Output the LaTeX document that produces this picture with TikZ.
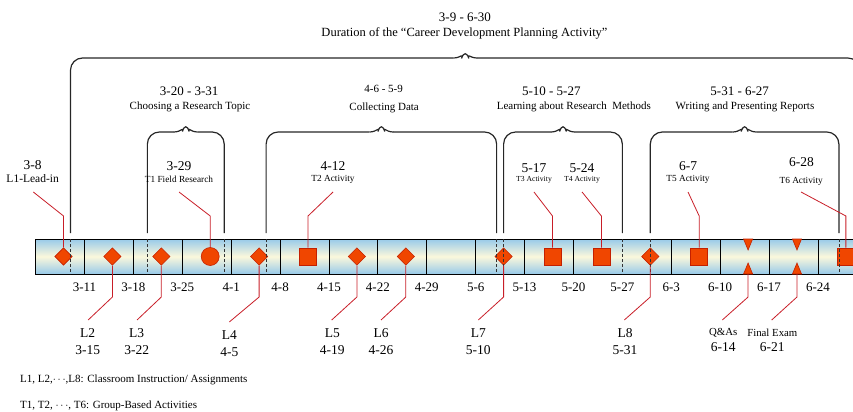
\documentclass[tikz,border=0pt]{standalone}
\usepackage{fontspec}
\setmainfont{Liberation Serif}
\usetikzlibrary{positioning,shapes.geometric}
\definecolor{MarkFill}{HTML}{F04600}
\definecolor{MarkEdge}{HTML}{C42000}
\definecolor{LeadRed}{HTML}{C81E28}
\definecolor{BarBlue}{HTML}{98CAE9}
\definecolor{BarCream}{HTML}{FBF8DC}
\newcommand{\fsz}[1]{\fontsize{#1}{#1}\selectfont}
% brace over a phase: left day, right day, top y, tip height
\newcommand{\phasebrace}[4]{%
  \draw[brace] (#1,233) -- (#1,#3) -- ({(#1+#2)/2-1.7},#3);
  \draw[brace] ({(#1+#2)/2-1.7},#3) .. controls ({(#1+#2)/2-0.6},#3) and ({(#1+#2)/2-0.25},{#3-#4/2}) .. ({(#1+#2)/2},{#3-#4})
    .. controls ({(#1+#2)/2+0.25},{#3-#4/2}) and ({(#1+#2)/2+0.6},#3) .. ({(#1+#2)/2+1.7},#3);
  \draw[brace] ({(#1+#2)/2+1.7},#3) -- (#2,#3) -- (#2,233);}

\begin{document}
\begin{tikzpicture}[x=6.985pt, y=-1pt, every node/.style={inner sep=0pt},
brace/.style={line width=1.2pt,black!85,rounded corners=12pt},
cut/.style={dashed,line width=0.8pt,black!80,dash pattern=on 3pt off 2pt},
cell/.style={line width=0.8pt,black},
evmark/.style={fill=MarkFill,draw=MarkEdge,line width=0.6pt},
lmark/.style={evmark,diamond,minimum size=17.5pt},
tmark/.style={evmark,rectangle,minimum size=17pt},
lead/.style={LeadRed,line width=0.8pt},
phasedate/.style={font=\fsz{13}},
phasename/.style={font=\fsz{11}},
evdate/.style={font=\fsz{13.5}},
weeklab/.style={font=\fsz{13}},
legend/.style={font=\fsz{11},anchor=west}]
\clip (-5.097,0) rectangle (117.02,411);

% whole activity and its phases
\phasebrace{5}{118}{58}{11}
\node[phasedate] (allwhen) at (61.47,17) {3-9 - 6-30};
\node[phasename,font=\fsz{12.5}] (allname) at (61.4,33) {Duration of the ``Career Development Planning Activity''};
\phasebrace{16}{27}{132}{12}
\node[phasedate] (p1when) at (21.99,91) {3-20 - 3-31};
\node[phasename] (p1name) at (22.1,107) {Choosing a Research Topic};
\phasebrace{33}{66}{132}{12}
\node[phasedate,font=\fsz{11}] (p2when) at (49.83,89) {4-6 - 5-9};
\node[phasename] (p2name) at (49.9,108) {Collecting Data};
\phasebrace{67}{84}{132}{12}
\node[phasedate] (p3when) at (73.83,91.5) {5-10 - 5-27};
\node[phasename] (p3name) at (77.05,107) {Learning about Research\ \ Methods};
\phasebrace{88}{115}{132}{12}
\node[phasedate] (p4when) at (100.8,91.5) {5-31 - 6-27};
\node[phasename] (p4name) at (101.56,107) {Writing and Presenting Reports};

% the week bar
\shade[top color=BarBlue,bottom color=BarBlue,middle color=BarCream] (0,239) rectangle (122,274);
\draw[cell] (0,239) rectangle (122,274);
\foreach \d in {7,14,...,77,91,98,...,119} \draw[cell] (\d,239) -- (\d,274);
\foreach \d/\t in {7/3-11,14/3-18,21/3-25,28/4-1,35/4-8,42/4-15,49/4-22,56/4-29,63/5-6,70/5-13,77/5-20,84/5-27,91/6-3,98/6-10,105/6-17,112/6-24}
  \node[weeklab] (w\d) at (\d,287) {\t};

% events
\node[lmark] (l1) at (4,256.5) {};
\node[lmark] (l2) at (11,256.5) {};
\node[lmark] (l3) at (18,256.5) {};
\node[evmark,circle,minimum size=18pt] (t1) at (25,256.5) {};
\node[lmark] (l4) at (32,256.5) {};
\node[tmark] (t2) at (39,256.5) {};
\node[lmark] (l5) at (46,256.5) {};
\node[lmark] (l6) at (53,256.5) {};
\node[lmark] (l7) at (67,256.5) {};
\node[tmark] (t3) at (74,256.5) {};
\node[tmark] (t4) at (81,256.5) {};
\node[lmark] (l8) at (88,256.5) {};
\node[tmark] (t5) at (95,256.5) {};
\node[tmark] (t6) at (116,256.5) {};
\foreach \d in {102,109} {
  \fill[evmark] (\d-0.65,239) -- (\d+0.65,239) -- (\d,250) -- cycle;
  \fill[evmark] (\d-0.65,274) -- (\d+0.65,274) -- (\d,263) -- cycle;}
\coordinate (qa) at (102,274);
\coordinate (exam) at (109,274);

% phase limits inside the bar
\foreach \d in {5,16,27,33,66,67,84,88,115} \draw[cut] (\d,239) -- (\d,274);

% labels above the bar
\node[evdate] (l1when) at (-0.42,165) {3-8};
\node[font=\fsz{11.5}] (l1name) at (-0.42,179) {L1-Lead-in};
\node[evdate] (t1when) at (20.53,166.5) {3-29};
\node[font=\fsz{9.3}] (t1name) at (20.53,179) {T1 Field Research};
\node[evdate] (t2when) at (42.58,166.5) {4-12};
\node[font=\fsz{9.3}] (t2name) at (42.58,179) {T2 Activity};
\node[evdate] (t3when) at (71.35,168) {5-17};
\node[font=\fsz{7.7}] (t3name) at (71.35,179.5) {T3 Activity};
\node[evdate] (t4when) at (78.23,168) {5-24};
\node[font=\fsz{7.7}] (t4name) at (78.23,179.5) {T4 Activity};
\node[evdate] (t5when) at (93.4,166.5) {6-7};
\node[font=\fsz{9.3}] (t5name) at (93.4,179.5) {T5 Activity};
\node[evdate] (t6when) at (109.65,162) {6-28};
\node[font=\fsz{9.3}] (t6name) at (109.6,181) {T6 Activity};
\foreach \m/\d/\e in {l1/4/-0.33,t1/25/20.53,t2/39/42.58,t3/74/71.35,t4/81/78.23,t5/95/93.4,t6/116/109.58} {
  \coordinate (\m top) at (\e,192);
  \draw[lead] (\m) -- (\d,216) -- (\m top);}

% labels below the bar
\foreach \m/\n/\t/\x in {l2/L2/3-15/7.46,l3/L3/3-22/14.47,l5/L5/4-19/42.48,l6/L6/4-26/49.45,l7/L7/5-10/63.38,l8/L8/5-31/84.38} {
  \node[evdate] (\m name) at (\x,333) {\n};
  \node[evdate] (\m when) at (\x,350) {\t};}
\node[evdate] (l4name) at (27.73,335) {L4};
\node[evdate] (l4when) at (27.73,352) {4-5};
\node[font=\fsz{10.8}] (qaname) at (98.45,333) {Q\&As};
\node[evdate] (qawhen) at (98.45,347) {6-14};
\node[font=\fsz{10.8}] (examname) at (105.47,333) {Final Exam};
\node[evdate] (examwhen) at (105.47,347) {6-21};
\foreach \m/\d/\e in {l2/11/7.52,l3/18/14.52,l5/46/42.39,l6/53/49.45,l7/67/63.38,l8/88/84.28,qa/102/98.31,exam/109/105.38} {
  \coordinate (\m low) at (\e,320);
  \draw[lead] (\m) -- (\d,297) -- (\m low);}
\coordinate (l4low) at (27.73,322);
\draw[lead] (l4) -- (32,297) -- (l4low);

% key
\node[legend] (keyl) at (-2.233,380) {L1, L2,$\cdots$,L8: Classroom Instruction/ Assignments};
\node[legend] (keyt) at (-2.233,406) {T1, T2, $\cdots$, T6: Group-Based Activities};
\end{tikzpicture}
\end{document}
